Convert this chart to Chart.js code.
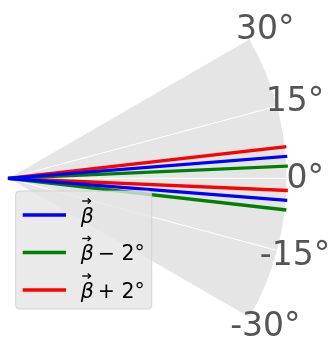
<!DOCTYPE html>
<html>
<head>
<meta charset="utf-8">
<script src="https://cdn.jsdelivr.net/npm/chart.js@4.4.0/dist/chart.umd.min.js"></script>
<style>
  html, body { margin: 0; padding: 0; background: #fff; }
  #wrap { position: relative; width: 331px; height: 339px; }
</style>
</head>
<body>
<div id="wrap"><canvas id="c"></canvas></div>
<script>
// Beam directions (degrees) and radii: each trace goes out, back to the origin, and out again
const thetaBeta       = [4.5, 0, -4.5];
const thetaBetaMinus2 = [2.5, 0, -6.5];
const thetaBetaPlus2  = [6.5, 0, -2.5];
const radius          = [1, 0, 1];

// Legend text after the vector symbol
const legendSuffix = ['', '\u2212 2°', '+ 2°'];

// Angular ticks of the sector
const thetaTicks      = [30, 15, 0, -15, -30];
const thetaTickLabels = ['30°', '15°', '0°', '-15°', '-30°'];
const thetaMin = -30, thetaMax = 30;

const rad = d => d * Math.PI / 180;
const toXY = (t, r) => ({ x: r * Math.cos(rad(t)), y: r * Math.sin(rad(t)) });
const trace = thetas => thetas.map((t, i) => toXY(t, radius[i]));

// Sector background, spokes and angle labels
const polarFrame = {
  id: 'polarFrame',
  beforeDatasetsDraw(chart) {
    const { ctx, scales: { x, y } } = chart;
    const ox = x.getPixelForValue(0), oy = y.getPixelForValue(0);
    const R = x.getPixelForValue(1) - ox;
    ctx.save();
    ctx.beginPath();
    ctx.moveTo(ox, oy);
    ctx.arc(ox, oy, R, -rad(thetaMax), -rad(thetaMin));
    ctx.closePath();
    ctx.fillStyle = '#e5e5e5';
    ctx.fill();

    ctx.strokeStyle = '#ffffff';
    ctx.lineWidth = 1;
    thetaTicks.forEach(t => {
      const p = toXY(t, 1);
      ctx.beginPath();
      ctx.moveTo(ox, oy);
      ctx.lineTo(x.getPixelForValue(p.x), y.getPixelForValue(p.y));
      ctx.stroke();
    });

    const fs = 33;
    ctx.font = fs + 'px "DejaVu Sans"';
    ctx.fillStyle = '#555555';
    ctx.textAlign = 'center';
    ctx.textBaseline = 'alphabetic';
    thetaTicks.forEach((t, i) => {
      const p = toXY(t, 1.067);
      const px = x.getPixelForValue(p.x), py = y.getPixelForValue(p.y);
      ctx.fillText(thetaTickLabels[i], px, py - 2.5 + 0.729 * fs / 2);
    });
    ctx.restore();
  }
};

// Legend box drawn inside the plot
const sectorLegend = {
  id: 'sectorLegend',
  afterDatasetsDraw(chart) {
    const { ctx } = chart;
    const bx = 15.7, by = 191, bw = 136, bh = 118;
    ctx.save();
    ctx.beginPath();
    ctx.roundRect(bx, by, bw, bh, 3.5);
    ctx.fillStyle = 'rgba(229,229,229,0.8)';
    ctx.fill();
    ctx.strokeStyle = 'rgba(204,204,204,0.8)';
    ctx.lineWidth = 1;
    ctx.stroke();

    const fs = 20.5;
    chart.data.datasets.forEach((ds, i) => {
      const ry = 215 + i * 37.5;
      ctx.strokeStyle = ds.borderColor;
      ctx.lineWidth = ds.borderWidth;
      ctx.lineCap = 'butt';
      ctx.beginPath();
      ctx.moveTo(bx + 7, ry);
      ctx.lineTo(bx + 50.3, ry);
      ctx.stroke();

      const tx = bx + 65;
      const base = ry + 7.5;
      ctx.fillStyle = '#000';
      ctx.textAlign = 'left';
      ctx.textBaseline = 'alphabetic';
      ctx.font = 'italic ' + fs + 'px "DejaVu Sans"';
      ctx.fillText('β', tx, base);
      // vector arrow over beta
      const ay = ry - 14;
      ctx.strokeStyle = '#000';
      ctx.lineWidth = 1.3;
      ctx.beginPath();
      ctx.moveTo(tx + 1.5, ay);
      ctx.lineTo(tx + 9.5, ay);
      ctx.stroke();
      ctx.beginPath();
      ctx.moveTo(tx + 7, ay - 2.5);
      ctx.lineTo(tx + 9.8, ay);
      ctx.lineTo(tx + 7, ay + 2.5);
      ctx.stroke();

      if (legendSuffix[i]) {
        ctx.font = fs + 'px "DejaVu Sans"';
        ctx.fillText(legendSuffix[i], tx + 17, base);
      }
    });
    ctx.restore();
  }
};

const pxPerUnit = 278.5, originX = 8, originY = 178.3, W = 331, H = 339;

new Chart(document.getElementById('c'), {
  type: 'scatter',
  data: {
    datasets: [
      { label: 'β⃗', data: trace(thetaBeta), borderColor: '#0000ff' },
      { label: 'β⃗ − 2°', data: trace(thetaBetaMinus2), borderColor: '#008000' },
      { label: 'β⃗ + 2°', data: trace(thetaBetaPlus2), borderColor: '#ff0000' }
    ].map(d => Object.assign(d, {
      showLine: true, borderWidth: 3.3, pointRadius: 0, borderCapStyle: 'square',
      borderJoinStyle: 'miter', fill: false, tension: 0
    }))
  },
  options: {
    responsive: true,
    maintainAspectRatio: false,
    animation: false,
    layout: { padding: 0, autoPadding: false },
    plugins: { legend: { display: false }, tooltip: { enabled: false } },
    scales: {
      x: { type: 'linear', display: false,
           min: -originX / pxPerUnit, max: (W - originX) / pxPerUnit },
      y: { type: 'linear', display: false,
           min: -(H - originY) / pxPerUnit, max: originY / pxPerUnit }
    }
  },
  plugins: [polarFrame, sectorLegend]
});
</script>
</body>
</html>
